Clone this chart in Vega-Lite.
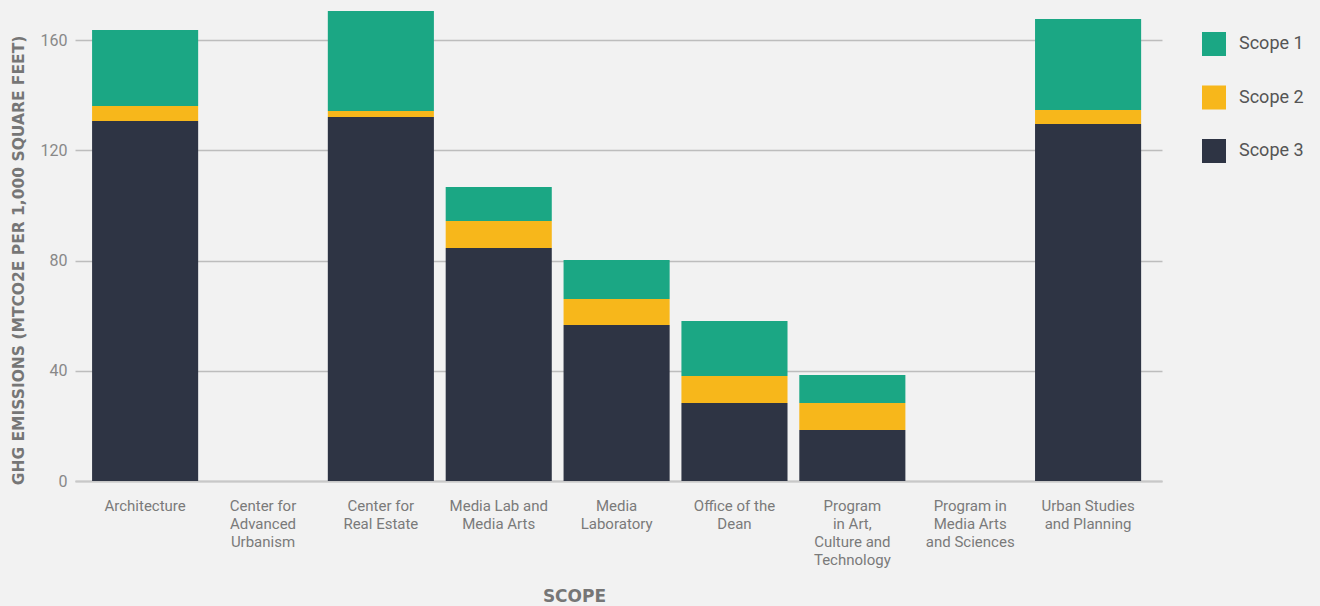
{
  "$schema": "https://vega.github.io/schema/vega-lite/v6.json",
  "autosize": {"type": "none"},
  "padding": {"left": 75, "top": 0, "right": 158, "bottom": 125},
  "width": 1087,
  "height": 481,
  "background": "#f2f2f2",
  "config": {"view": {"stroke": null}, "font": "Roboto"},
  "data": {"values": [
    {"dept": "Architecture", "scope": "Scope 1", "value": 27.6, "o": 3},
    {"dept": "Architecture", "scope": "Scope 2", "value": 5.4, "o": 2},
    {"dept": "Architecture", "scope": "Scope 3", "value": 130.7, "o": 1},
    {"dept": "Center for Real Estate", "scope": "Scope 1", "value": 36.3, "o": 3},
    {"dept": "Center for Real Estate", "scope": "Scope 2", "value": 2.2, "o": 2},
    {"dept": "Center for Real Estate", "scope": "Scope 3", "value": 132.1, "o": 1},
    {"dept": "Media Lab and Media Arts", "scope": "Scope 1", "value": 12.3, "o": 3},
    {"dept": "Media Lab and Media Arts", "scope": "Scope 2", "value": 9.8, "o": 2},
    {"dept": "Media Lab and Media Arts", "scope": "Scope 3", "value": 84.6, "o": 1},
    {"dept": "Media Laboratory", "scope": "Scope 1", "value": 14.1, "o": 3},
    {"dept": "Media Laboratory", "scope": "Scope 2", "value": 9.5, "o": 2},
    {"dept": "Media Laboratory", "scope": "Scope 3", "value": 56.6, "o": 1},
    {"dept": "Office of the Dean", "scope": "Scope 1", "value": 20.0, "o": 3},
    {"dept": "Office of the Dean", "scope": "Scope 2", "value": 9.8, "o": 2},
    {"dept": "Office of the Dean", "scope": "Scope 3", "value": 28.3, "o": 1},
    {"dept": "Program in Art, Culture and Technology", "scope": "Scope 1", "value": 10.2, "o": 3},
    {"dept": "Program in Art, Culture and Technology", "scope": "Scope 2", "value": 9.8, "o": 2},
    {"dept": "Program in Art, Culture and Technology", "scope": "Scope 3", "value": 18.5, "o": 1},
    {"dept": "Urban Studies and Planning", "scope": "Scope 1", "value": 33.0, "o": 3},
    {"dept": "Urban Studies and Planning", "scope": "Scope 2", "value": 5.1, "o": 2},
    {"dept": "Urban Studies and Planning", "scope": "Scope 3", "value": 129.6, "o": 1}
  ]},
  "mark": {"type": "bar"},
  "encoding": {
    "x": {
      "field": "dept", "type": "nominal", "sort": null,
      "scale": {
        "domain": ["Architecture", "Center for Advanced Urbanism", "Center for Real Estate", "Media Lab and Media Arts", "Media Laboratory", "Office of the Dean", "Program in Art, Culture and Technology", "Program in Media Arts and Sciences", "Urban Studies and Planning"],
        "paddingInner": 0.1, "paddingOuter": 0.161, "align": 0.45
      },
      "axis": {
        "title": "SCOPE", "titleFont": "DejaVu Sans", "titleFontWeight": "bold", "titleFontSize": 17, "titleColor": "#767676",
        "titleX": 499, "titleY": 120, "titleAlign": "center", "titleBaseline": "alphabetic",
        "labelAngle": 0, "labelFont": "Roboto", "labelFontSize": 15, "labelColor": "#7a7a7a", "labelLineHeight": 18,
        "labelPadding": 17, "labelBaseline": "top", "ticks": false, "domainColor": "#c8c8c8", "domainWidth": 2,
        "labelExpr": "{'Center for Advanced Urbanism': ['Center for','Advanced','Urbanism'], 'Center for Real Estate': ['Center for','Real Estate'], 'Media Lab and Media Arts': ['Media Lab and','Media Arts'], 'Media Laboratory': ['Media','Laboratory'], 'Office of the Dean': ['Office of the','Dean'], 'Program in Art, Culture and Technology': ['Program','in Art,','Culture and','Technology'], 'Program in Media Arts and Sciences': ['Program in','Media Arts','and Sciences'], 'Urban Studies and Planning': ['Urban Studies','and Planning']}[datum.label] || datum.label"
      }
    },
    "y": {
      "field": "value", "type": "quantitative", "stack": "zero",
      "scale": {"domain": [0, 174.6], "nice": false, "zero": true},
      "axis": {
        "title": "GHG EMISSIONS (MTCO2E PER 1,000 SQUARE FEET)", "titleFont": "DejaVu Sans", "titleFontWeight": "bold", "titleFontSize": 15.5,
        "titleColor": "#767676", "titleX": -52, "titleY": 260, "titleAlign": "center", "titleBaseline": "alphabetic",
        "values": [0, 40, 80, 120, 160], "labelFont": "Roboto", "labelFontSize": 16, "labelColor": "#888888", "labelPadding": 8,
        "ticks": false, "domain": false, "gridColor": "#bdbdbd", "gridWidth": 1.5
      }
    },
    "color": {
      "field": "scope", "type": "nominal",
      "scale": {"domain": ["Scope 1", "Scope 2", "Scope 3"], "range": ["#1ba784", "#f7b71b", "#2e3444"]},
      "legend": {
        "title": null, "orient": "none", "legendX": 1127, "legendY": 32,
        "symbolType": "square", "symbolSize": 576, "symbolStrokeWidth": 0, "symbolOpacity": 1,
        "labelFont": "Roboto", "labelFontSize": 18, "labelColor": "#555555", "labelOffset": 13, "rowPadding": 29.5
      }
    },
    "order": {"field": "o", "type": "quantitative"}
  }
}
